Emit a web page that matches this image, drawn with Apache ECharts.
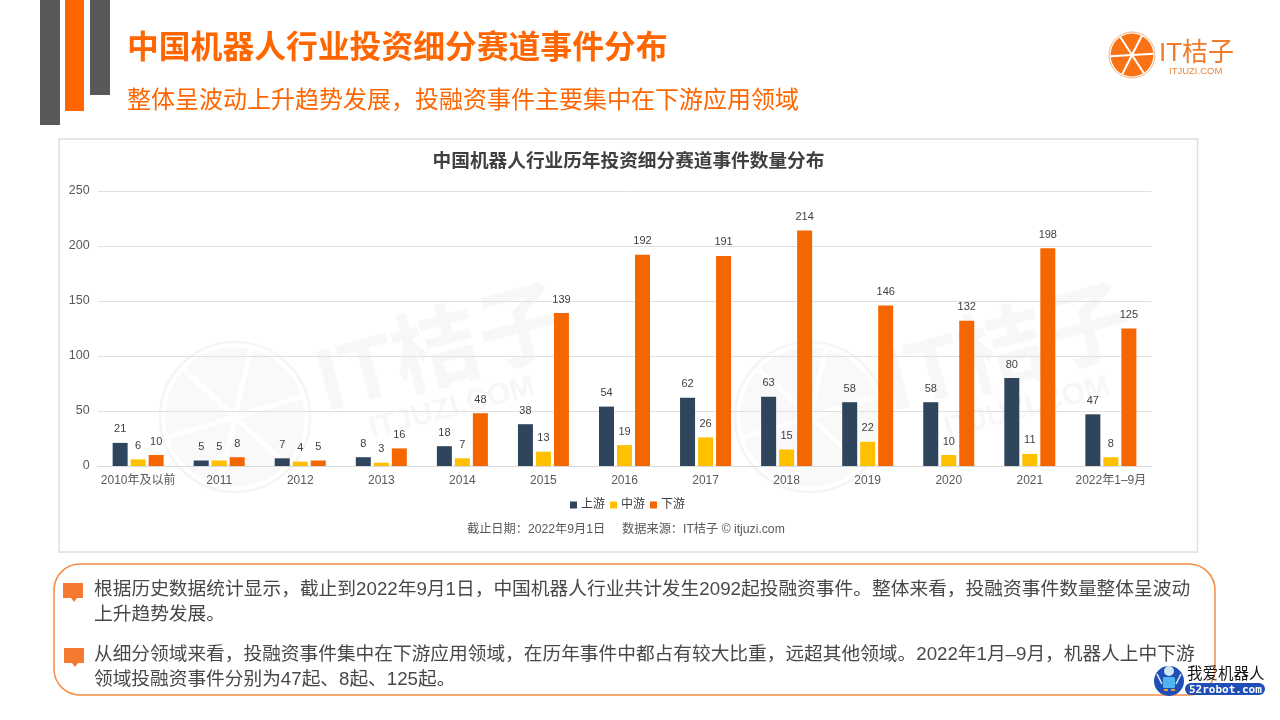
<!DOCTYPE html>
<html><head><meta charset="utf-8">
<style>html,body{margin:0;padding:0;background:#fff}#c{width:1280px;height:720px}</style>
<script src="https://cdn.jsdelivr.net/npm/echarts@6/dist/echarts.min.js"></script>
</head><body><div id="c"></div>
<script>
const categories=['2010年及以前','2011','2012','2013','2014','2015','2016','2017','2018','2019','2020','2021','2022年1–9月'];
const upstream=[21,5,7,8,18,38,54,62,63,58,58,80,47];
const midstream=[6,5,4,3,7,13,19,26,15,22,10,11,8];
const downstream=[10,8,5,16,48,139,192,191,214,146,132,198,125];
const seriesNames=['上游','中游','下游'];
const seriesColors=['#2F455C','#FFC000','#F46600'];
const pageTitle='中国机器人行业投资细分赛道事件分布';
const pageSubtitle='整体呈波动上升趋势发展\uFF0C投融资事件主要集中在下游应用领域';
const chartTitle='中国机器人行业历年投资细分赛道事件数量分布';
const footNote='截止日期\uFF1A2022年9月1日     数据来源\uFF1AIT桔子 © itjuzi.com';
const bodyLines=[
 '根据历史数据统计显示\uFF0C截止到2022年9月1日\uFF0C中国机器人行业共计发生2092起投融资事件。整体来看\uFF0C投融资事件数量整体呈波动',
 '上升趋势发展。',
 '从细分领域来看\uFF0C投融资事件集中在下游应用领域\uFF0C在历年事件中都占有较大比重\uFF0C远超其他领域。2022年1月–9月\uFF0C机器人上中下游',
 '领域投融资事件分别为47起、8起、125起。'];
const CJK='"Liberation Sans","Noto Sans CJK SC",sans-serif';
const LAT=CJK;

function rect(x,y,w,h,fill,r){return {type:'rect',shape:{x,y,width:w,height:h,r:r||0},style:{fill}};}
function txt(x,y,text,font,fill,size,weight,extra){return Object.assign({type:'text',x,y,style:{text,fill,fontFamily:font,fontSize:size,fontWeight:weight||'normal',textAlign:'left',textVerticalAlign:'middle'}},extra||{});}
function orange(cx,cy,r,fill,ring,gap,rot){
  const out=[{type:'circle',shape:{cx,cy,r},style:{fill:'none',stroke:ring,lineWidth:Math.max(1,r*0.035)}},
             {type:'circle',shape:{cx,cy,r:r*0.93},style:{fill}}];
  [rot,rot+60,rot+120].forEach(a=>{const t=a*Math.PI/180,dx=Math.cos(t)*r*0.95,dy=Math.sin(t)*r*0.95;
    out.push({type:'line',shape:{x1:cx-dx,y1:cy-dy,x2:cx+dx,y2:cy+dy},style:{stroke:'#fff',lineWidth:gap}});});
  return out;
}
function watermark(cx,cy,tx,ty,sx,sy){
  const rot=15*Math.PI/180;
  return [...orange(cx,cy,75,'#F9F9F9','#F5F5F5',5,-17),
    txt(tx,ty,'IT桔子',CJK,'#F7F7F7',88,'bold',{rotation:rot}),
    txt(sx,sy,'ITJUZI.COM',LAT,'#F7F7F7',30,'bold',{rotation:rot})];
}
const bubble=(x,y)=>({type:'polygon',shape:{points:[[x,y],[x+20,y],[x+20,y+15],[x+14,y+15],[x+11,y+19],[x+8,y+15],[x,y+15]]},style:{fill:'#F47A30'}});
const robotArm=(x1,y1,x2,y2)=>({type:'line',shape:{x1,y1,x2,y2},style:{stroke:'#DCEBF7',lineWidth:1.6}});

const graphics=[
  rect(40,0,20,125,'#595959'),rect(65,0,19,111,'#FF6600'),rect(90,0,20,95,'#595959'),
  txt(127,49,pageTitle,CJK,'#FF6600',31.8,'bold'),
  txt(127,101,pageSubtitle,CJK,'#FF6600',24),
  ...orange(1132,55,23,'#F97316','#F5B27E',2,-3),
  txt(1159,54,'IT桔子',CJK,'#F07B2B',26),
  txt(1169,71,'ITJUZI.COM',LAT,'#E8883F',9.5),
  {type:'rect',shape:{x:59,y:139,width:1138.5,height:413},style:{fill:'#fff',stroke:'#DEDEDE',lineWidth:1.5}},
  ...watermark(235,417,320,388,370,430),
  ...watermark(810,417,886,388,945,430),
  {type:'rect',shape:{x:54,y:564,width:1161,height:131,r:26},style:{fill:'#fff',stroke:'#F58B45',lineWidth:1.5}},
  bubble(63,583),bubble(64,648),
  txt(94,590,bodyLines[0],CJK,'#484848',18.73),
  txt(94,615,bodyLines[1],CJK,'#484848',18.73),
  txt(94,655,bodyLines[2],CJK,'#484848',18.7),
  txt(94,680,bodyLines[3],CJK,'#484848',18.7),
  {type:'circle',shape:{cx:1169,cy:681,r:15},style:{fill:'#1F4FB5'}},
  robotArm(1157,674,1162,684),robotArm(1181,674,1176,684),
  rect(1163,677,12,11,'#4FB4F0',1),
  {type:'circle',shape:{cx:1169,cy:671,r:5},style:{fill:'#CFE4F5'}},
  rect(1164,689,4,2,'#F0A030'),rect(1171,689,4,2,'#F0A030'),
  rect(1185,683,80,12,'#1F4FB5',6),
  txt(1187,675,'我爱机器人',CJK,'#111',15.5),
  txt(1189,690,'52robot.com','"DejaVu Sans Mono",monospace','#fff',11,'bold'),
  txt(467,530,footNote,CJK,'#595959',12.2)
];

const chart=echarts.init(document.getElementById('c'),null,{renderer:'canvas'});
const mk=(name,data,color)=>({name,type:'bar',data,barWidth:15,barGap:'20%',z:3,
  itemStyle:{color},
  label:{show:true,position:'top',distance:8,color:'#404040',fontSize:11,fontFamily:LAT}});
chart.setOption({
  animation:false,
  title:{text:chartTitle,left:623.5,top:146,textAlign:'center',textStyle:{fontFamily:CJK,fontSize:18.67,fontWeight:'bold',color:'#404040',lineHeight:22}},
  legend:{data:seriesNames,left:565,top:494,icon:'rect',itemWidth:7,itemHeight:7,itemGap:5,
    textStyle:{fontFamily:CJK,fontSize:12,color:'#404040',padding:[0,0,0,-1]}},
  grid:{left:97.6,right:128.6,top:191,height:275,containLabel:false},
  xAxis:{type:'category',data:categories,axisTick:{show:false},
    axisLine:{lineStyle:{color:'#D9D9D9',width:1}},
    axisLabel:{color:'#595959',fontSize:12,fontFamily:CJK,margin:9,interval:0}},
  yAxis:{type:'value',min:0,max:250,interval:50,axisLine:{show:false},axisTick:{show:false},
    splitLine:{lineStyle:{color:'#E0E0E0',width:1}},
    axisLabel:{color:'#595959',fontSize:12.5,fontFamily:LAT,margin:8,align:'right',padding:[2,0,0,0]}},
  series:[mk(seriesNames[0],upstream,seriesColors[0]),mk(seriesNames[1],midstream,seriesColors[1]),mk(seriesNames[2],downstream,seriesColors[2])],
  graphic:{elements:[{type:'group',silent:true,z:-10,children:graphics}]}
});
</script></body></html>
